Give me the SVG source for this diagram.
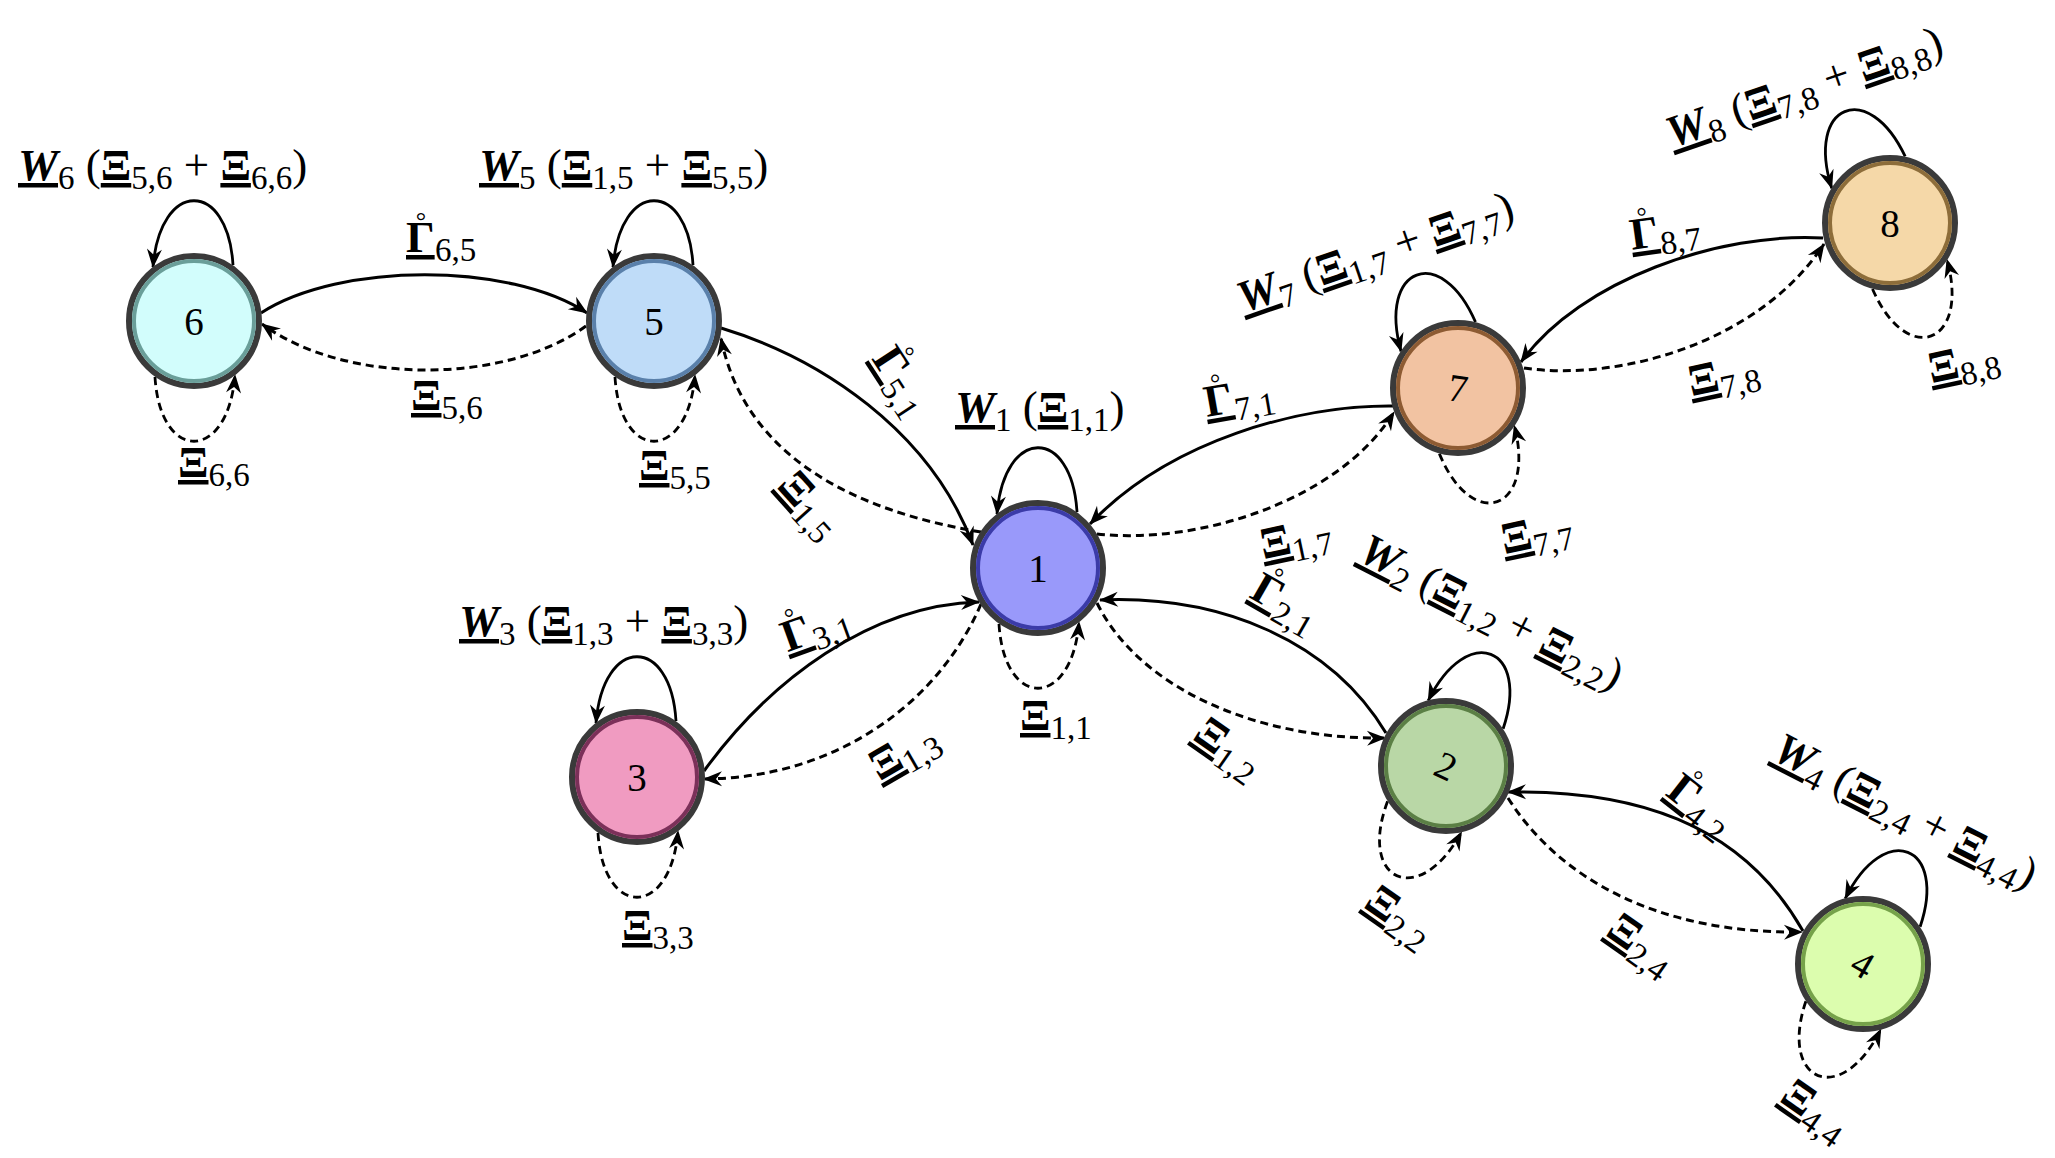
<svg xmlns="http://www.w3.org/2000/svg" width="2055" height="1158" viewBox="0 0 2055 1158">
<defs>
<style>
.lbl{font-family:"Liberation Serif","DejaVu Serif",serif;font-size:45px;fill:#000}
.sub{font-size:33px}
.rg{font-size:26px}
.b{font-weight:bold;text-decoration:underline}
.w{font-weight:bold;font-style:italic;text-decoration:underline}
.mid{text-anchor:middle}
.num{font-family:"Liberation Serif","DejaVu Serif",serif;font-size:39px;text-anchor:middle;dominant-baseline:central;fill:#000}
.e{fill:none;stroke:#000;stroke-width:3;marker-end:url(#ah)}
.d{stroke-dasharray:8 5}
.lp{fill:none;stroke:#000;stroke-width:2.8;marker-end:url(#ah)}
.outer{stroke:#3a3a3a;stroke-width:6}
.ring{fill:none;stroke-width:4}
</style>
<marker id="ah" markerUnits="userSpaceOnUse" markerWidth="26" markerHeight="22" viewBox="-22 -11 26 22" refX="0" refY="0" orient="auto">
<path d="M1,0 L-18,-7.5 L-12,0 L-18,7.5 Z" fill="#000"/>
</marker>
</defs>
<rect width="2055" height="1158" fill="#fff"/>

<g id="connectors">
<path class="e" d="M261,313 C340,262 510,262 587,313"/>
<path class="e d" d="M586,326 C505,385 345,385 262,324"/>
<path class="e" d="M721,328 C820,358 930,430 973,545"/>
<path class="e d" d="M981,532 C860,512 745,460 721,338"/>
<path class="e" d="M1393,406 C1300,405 1170,440 1090,524"/>
<path class="e d" d="M1097,534 C1200,545 1340,500 1394,412"/>
<path class="e" d="M1823,238 C1720,232 1580,280 1521,362"/>
<path class="e d" d="M1524,368 C1620,382 1760,342 1824,244"/>
<path class="e" d="M704,771 C770,680 870,605 979,602"/>
<path class="e d" d="M981,604 C940,700 840,778 704,779"/>
<path class="e" d="M1386,733 C1330,640 1220,595 1100,600"/>
<path class="e d" d="M1097,603 C1140,690 1260,740 1385,738"/>
<path class="e" d="M1803,931 C1740,820 1630,790 1508,792"/>
<path class="e d" d="M1508,798 C1560,880 1660,934 1802,932"/>
<path class="lp" transform="translate(194,321)" d="M39,-56 C34,-142 -34,-142 -41,-54"/>
<path class="lp d" transform="translate(194,321) rotate(180)" d="M39,-56 C34,-142 -34,-142 -41,-54"/>
<path class="lp" transform="translate(654,321)" d="M39,-56 C34,-142 -34,-142 -41,-54"/>
<path class="lp d" transform="translate(654,321) rotate(180)" d="M39,-56 C34,-142 -34,-142 -41,-54"/>
<path class="lp" transform="translate(1038,568)" d="M39,-56 C34,-142 -34,-142 -41,-54"/>
<path class="lp d" transform="translate(1038,568) rotate(180)" d="M39,-56 C34,-142 -34,-142 -41,-54"/>
<path class="lp" transform="translate(637,777)" d="M39,-56 C34,-142 -34,-142 -41,-54"/>
<path class="lp d" transform="translate(637,777) rotate(180)" d="M39,-56 C34,-142 -34,-142 -41,-54"/>
<path class="lp" transform="translate(1446,766) rotate(22)" d="M39,-56 C34,-142 -34,-142 -41,-54"/>
<path class="lp d" transform="translate(1446,766) rotate(204)" d="M39,-56 C34,-142 -34,-142 -41,-54"/>
<path class="lp" transform="translate(1863,964) rotate(22)" d="M39,-56 C34,-142 -34,-142 -41,-54"/>
<path class="lp d" transform="translate(1863,964) rotate(202)" d="M39,-56 C34,-142 -34,-142 -41,-54"/>
<path class="lp" transform="translate(1458,388) rotate(-20)" d="M39,-56 C34,-142 -34,-142 -41,-54"/>
<path class="lp d" transform="translate(1458,388) rotate(161)" d="M39,-56 C34,-142 -34,-142 -41,-54"/>
<path class="lp" transform="translate(1890,223) rotate(-22)" d="M39,-56 C34,-142 -34,-142 -41,-54"/>
<path class="lp d" transform="translate(1890,223) rotate(160)" d="M39,-56 C34,-142 -34,-142 -41,-54"/>
</g>

<g id="node1" transform="translate(1038,568)"><circle r="65" fill="#9999fa" class="outer"/><circle r="60" class="ring" stroke="#3b3ba8"/><text class="num">1</text></g>
<g id="node2" transform="translate(1446,766)"><circle r="65" fill="#b9d7a6" class="outer"/><circle r="60" class="ring" stroke="#5b7f45"/><text class="num" transform="rotate(25)">2</text></g>
<g id="node3" transform="translate(637,777)"><circle r="65" fill="#f09bc1" class="outer"/><circle r="60" class="ring" stroke="#7b3059"/><text class="num">3</text></g>
<g id="node4" transform="translate(1863,964)"><circle r="65" fill="#dcfdae" class="outer"/><circle r="60" class="ring" stroke="#76a24a"/><text class="num" transform="rotate(30)">4</text></g>
<g id="node5" transform="translate(654,321)"><circle r="65" fill="#bfdcf8" class="outer"/><circle r="60" class="ring" stroke="#5a80aa"/><text class="num">5</text></g>
<g id="node6" transform="translate(194,321)"><circle r="65" fill="#d2fdfc" class="outer"/><circle r="60" class="ring" stroke="#6a9e99"/><text class="num">6</text></g>
<g id="node7" transform="translate(1458,388)"><circle r="65" fill="#f2c3a2" class="outer"/><circle r="60" class="ring" stroke="#8d5b33"/><text class="num" transform="rotate(8)">7</text></g>
<g id="node8" transform="translate(1890,223)"><circle r="65" fill="#f5d8a8" class="outer"/><circle r="60" class="ring" stroke="#8d6d3a"/><text class="num">8</text></g>

<g id="labels">
<text class="lbl" x="18" y="180"><tspan class="w">W</tspan><tspan class="sub" dy="9">6</tspan><tspan dy="-9"> (</tspan><tspan class="b">Ξ</tspan><tspan class="sub" dy="9">5,6</tspan><tspan dy="-9"> + </tspan><tspan class="b">Ξ</tspan><tspan class="sub" dy="9">6,6</tspan><tspan dy="-9">)</tspan></text>
<text class="lbl" x="479" y="180"><tspan class="w">W</tspan><tspan class="sub" dy="9">5</tspan><tspan dy="-9"> (</tspan><tspan class="b">Ξ</tspan><tspan class="sub" dy="9">1,5</tspan><tspan dy="-9"> + </tspan><tspan class="b">Ξ</tspan><tspan class="sub" dy="9">5,5</tspan><tspan dy="-9">)</tspan></text>
<text class="lbl" x="955" y="422"><tspan class="w">W</tspan><tspan class="sub" dy="9">1</tspan><tspan dy="-9"> (</tspan><tspan class="b">Ξ</tspan><tspan class="sub" dy="9">1,1</tspan><tspan dy="-9">)</tspan></text>
<text class="lbl" x="459" y="636"><tspan class="w">W</tspan><tspan class="sub" dy="9">3</tspan><tspan dy="-9"> (</tspan><tspan class="b">Ξ</tspan><tspan class="sub" dy="9">1,3</tspan><tspan dy="-9"> + </tspan><tspan class="b">Ξ</tspan><tspan class="sub" dy="9">3,3</tspan><tspan dy="-9">)</tspan></text>
<text class="lbl mid" transform="translate(1380,266) rotate(-19)"><tspan class="w">W</tspan><tspan class="sub" dy="9">7</tspan><tspan dy="-9"> (</tspan><tspan class="b">Ξ</tspan><tspan class="sub" dy="9">1,7</tspan><tspan dy="-9"> + </tspan><tspan class="b">Ξ</tspan><tspan class="sub" dy="9">7,7</tspan><tspan dy="-9">)</tspan></text>
<text class="lbl mid" transform="translate(1809,101) rotate(-19)"><tspan class="w">W</tspan><tspan class="sub" dy="9">8</tspan><tspan dy="-9"> (</tspan><tspan class="b">Ξ</tspan><tspan class="sub" dy="9">7,8</tspan><tspan dy="-9"> + </tspan><tspan class="b">Ξ</tspan><tspan class="sub" dy="9">8,8</tspan><tspan dy="-9">)</tspan></text>
<text class="lbl mid" transform="translate(1485,625) rotate(27)"><tspan class="w">W</tspan><tspan class="sub" dy="9">2</tspan><tspan dy="-9"> (</tspan><tspan class="b">Ξ</tspan><tspan class="sub" dy="9">1,2</tspan><tspan dy="-9"> + </tspan><tspan class="b">Ξ</tspan><tspan class="sub" dy="9">2,2</tspan><tspan dy="-9">)</tspan></text>
<text class="lbl mid" transform="translate(1899,824) rotate(27)"><tspan class="w">W</tspan><tspan class="sub" dy="9">4</tspan><tspan dy="-9"> (</tspan><tspan class="b">Ξ</tspan><tspan class="sub" dy="9">2,4</tspan><tspan dy="-9"> + </tspan><tspan class="b">Ξ</tspan><tspan class="sub" dy="9">4,4</tspan><tspan dy="-9">)</tspan></text>

<text class="lbl" x="406" y="252"><tspan class="b">Γ</tspan><tspan class="rg" dx="-19" dy="-23">°</tspan><tspan class="sub" dx="9" dy="32">6,5</tspan></text>
<text class="lbl" x="411" y="410"><tspan class="b">Ξ</tspan><tspan class="sub" dy="9">5,6</tspan></text>
<text class="lbl" x="178" y="477"><tspan class="b">Ξ</tspan><tspan class="sub" dy="9">6,6</tspan></text>
<text class="lbl" x="639" y="480"><tspan class="b">Ξ</tspan><tspan class="sub" dy="9">5,5</tspan></text>
<text class="lbl" x="1020" y="730"><tspan class="b">Ξ</tspan><tspan class="sub" dy="9">1,1</tspan></text>
<text class="lbl" x="622" y="940"><tspan class="b">Ξ</tspan><tspan class="sub" dy="9">3,3</tspan></text>

<text class="lbl mid" transform="translate(901,381) rotate(57)" y="13"><tspan class="b">Γ</tspan><tspan class="rg" dx="-19" dy="-23">°</tspan><tspan class="sub" dx="9" dy="32">5,1</tspan></text>
<text class="lbl mid" transform="translate(808,506) rotate(48)" y="11"><tspan class="b">Ξ</tspan><tspan class="sub" dy="9">1,5</tspan></text>
<text class="lbl mid" transform="translate(1239,398) rotate(-10)" y="13"><tspan class="b">Γ</tspan><tspan class="rg" dx="-19" dy="-23">°</tspan><tspan class="sub" dx="9" dy="32">7,1</tspan></text>
<text class="lbl mid" transform="translate(1296,541) rotate(-12)" y="11"><tspan class="b">Ξ</tspan><tspan class="sub" dy="9">1,7</tspan></text>
<text class="lbl mid" transform="translate(1537,536) rotate(-12)" y="11"><tspan class="b">Ξ</tspan><tspan class="sub" dy="9">7,7</tspan></text>
<text class="lbl mid" transform="translate(1665,232) rotate(-8)" y="13"><tspan class="b">Γ</tspan><tspan class="rg" dx="-19" dy="-23">°</tspan><tspan class="sub" dx="9" dy="32">8,7</tspan></text>
<text class="lbl mid" transform="translate(1724,378) rotate(-12)" y="11"><tspan class="b">Ξ</tspan><tspan class="sub" dy="9">7,8</tspan></text>
<text class="lbl mid" transform="translate(1964,365) rotate(-12)" y="11"><tspan class="b">Ξ</tspan><tspan class="sub" dy="9">8,8</tspan></text>
<text class="lbl mid" transform="translate(1285,603) rotate(30)" y="13"><tspan class="b">Γ</tspan><tspan class="rg" dx="-19" dy="-23">°</tspan><tspan class="sub" dx="9" dy="32">2,1</tspan></text>
<text class="lbl mid" transform="translate(1227,750) rotate(35)" y="11"><tspan class="b">Ξ</tspan><tspan class="sub" dy="9">1,2</tspan></text>
<text class="lbl mid" transform="translate(1398,918) rotate(35)" y="11"><tspan class="b">Ξ</tspan><tspan class="sub" dy="9">2,2</tspan></text>
<text class="lbl mid" transform="translate(1700,806) rotate(38)" y="13"><tspan class="b">Γ</tspan><tspan class="rg" dx="-19" dy="-23">°</tspan><tspan class="sub" dx="9" dy="32">4,2</tspan></text>
<text class="lbl mid" transform="translate(1640,946) rotate(35)" y="11"><tspan class="b">Ξ</tspan><tspan class="sub" dy="9">2,4</tspan></text>
<text class="lbl mid" transform="translate(1814,1112) rotate(35)" y="11"><tspan class="b">Ξ</tspan><tspan class="sub" dy="9">4,4</tspan></text>
<text class="lbl mid" transform="translate(816,628) rotate(-20)" y="13"><tspan class="b">Γ</tspan><tspan class="rg" dx="-19" dy="-23">°</tspan><tspan class="sub" dx="9" dy="32">3,1</tspan></text>
<text class="lbl mid" transform="translate(905,754) rotate(-30)" y="11"><tspan class="b">Ξ</tspan><tspan class="sub" dy="9">1,3</tspan></text>
</g>
</svg>
